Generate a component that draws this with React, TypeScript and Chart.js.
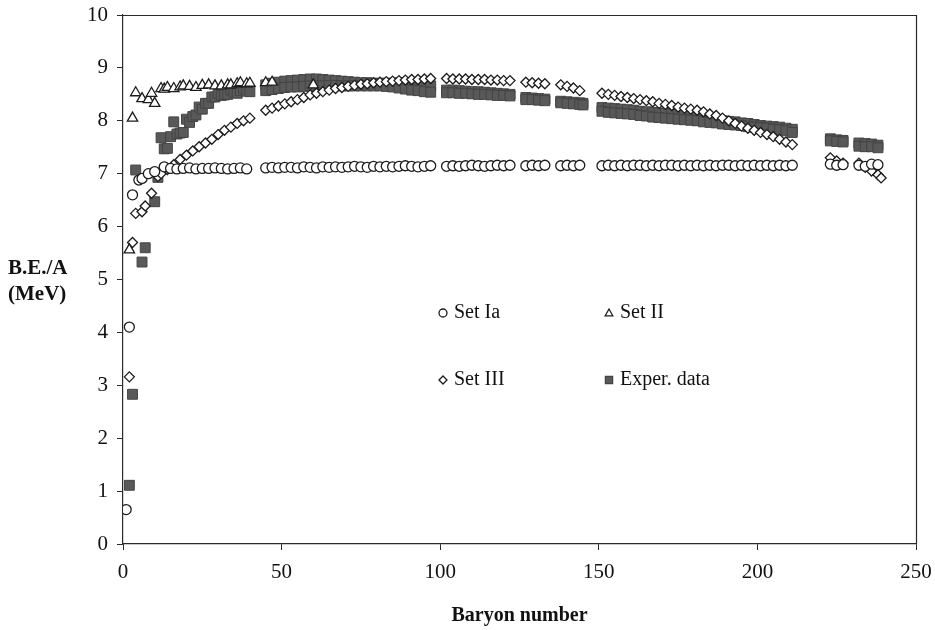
import React, { useEffect, useRef } from "react";
import { Chart, registerables } from "chart.js";

Chart.register(...registerables);

// ---------- data ----------
const seriesNames = ["Set Ia", "Set II", "Set III", "Exper. data"];
const xTitle = "Baryon number";
const yTitleLines = ["B.E./A", "(MeV)"];

// Set Ia (open circles)
const iaA = [
  1, 2, 3, 5, 6, 8, 10, 13, 15, 17, 19, 21, 23, 25, 27, 29, 31, 33, 35, 37, 39,
  45, 47, 49, 51, 53, 55, 57, 59, 61, 63, 65, 67, 69, 71, 73, 75, 77, 79, 81, 83, 85, 87, 89, 91, 93, 95, 97,
  102, 104, 106, 108, 110, 112, 114, 116, 118, 120, 122,
  127, 129, 131, 133,
  138, 140, 142, 144,
  151, 153, 155, 157, 159, 161, 163, 165, 167, 169, 171, 173, 175, 177, 179, 181, 183, 185, 187, 189, 191, 193, 195, 197, 199, 201, 203, 205, 207, 209, 211,
  223, 225, 227,
  232, 234, 236, 238,
];
const iaBE = [
  0.65, 4.1, 6.6, 6.88, 6.91, 7.0, 7.04, 7.13, 7.1, 7.09, 7.1, 7.11, 7.09, 7.1, 7.1, 7.11, 7.1, 7.09, 7.1, 7.11, 7.09,
  7.11, 7.12, 7.11, 7.12, 7.12, 7.11, 7.13, 7.12, 7.11, 7.13, 7.12, 7.13, 7.12, 7.13, 7.14, 7.13, 7.12, 7.14, 7.13, 7.14, 7.13, 7.14, 7.15, 7.14, 7.13, 7.14, 7.15,
  7.14, 7.15, 7.14, 7.15, 7.16, 7.15, 7.14, 7.15, 7.16, 7.15, 7.16,
  7.15, 7.16, 7.15, 7.16,
  7.15, 7.16, 7.15, 7.16,
  7.15, 7.16, 7.15, 7.16, 7.15, 7.16, 7.16, 7.15, 7.16, 7.15, 7.16, 7.16, 7.15, 7.16, 7.15, 7.16, 7.15, 7.16, 7.15, 7.16, 7.16, 7.15, 7.16, 7.15, 7.16, 7.15, 7.16, 7.15, 7.16, 7.15, 7.16,
  7.18, 7.16, 7.17,
  7.16, 7.14, 7.18, 7.17,
];

// Set II (open triangles)
const iiA = [2, 3, 4, 6, 8, 9, 10, 12, 13, 14, 16, 18, 19, 21, 23, 25, 27, 29, 31, 33, 34, 36, 37, 39, 40, 45, 47, 60];
const iiBE = [
  5.56, 8.05, 8.53, 8.42, 8.4, 8.52, 8.33, 8.61, 8.6, 8.63, 8.61, 8.64, 8.66, 8.65, 8.63, 8.67, 8.68, 8.66, 8.66, 8.68,
  8.68, 8.7, 8.72, 8.7, 8.71, 8.72, 8.73, 8.68,
];

// Set III (open diamonds)
const iiiA = [
  2, 3, 4, 6, 7, 9, 11, 12, 14, 16, 18, 20, 22, 24, 26, 28, 30, 32, 34, 36, 38, 40,
  45, 47, 49, 51, 53, 55, 57, 59, 61, 63, 65, 67, 69, 71, 73, 75, 77, 79, 81, 83, 85, 87, 89, 91, 93, 95, 97,
  102, 104, 106, 108, 110, 112, 114, 116, 118, 120, 122,
  127, 129, 131, 133,
  138, 140, 142, 144,
  151, 153, 155, 157, 159, 161, 163, 165, 167, 169, 171, 173, 175, 177, 179, 181, 183, 185, 187, 189, 191, 193, 195, 197, 199, 201, 203, 205, 207, 209, 211,
  223, 225, 227,
  232, 234, 236, 238, 239,
];
const iiiBE = [
  3.16, 5.7, 6.25, 6.28, 6.39, 6.63, 6.95, 7.0, 7.08, 7.17, 7.27, 7.35, 7.43, 7.51, 7.58, 7.65, 7.74, 7.82, 7.88, 7.95, 8.0, 8.05,
  8.2, 8.24, 8.28, 8.32, 8.36, 8.4, 8.44, 8.49, 8.52, 8.55, 8.58, 8.61, 8.63, 8.65, 8.67, 8.69, 8.7, 8.72, 8.73, 8.74, 8.75, 8.76, 8.77, 8.78, 8.78, 8.79, 8.8,
  8.8, 8.79, 8.79, 8.79, 8.78, 8.78, 8.78, 8.77, 8.77, 8.76, 8.76,
  8.73, 8.72, 8.71, 8.7,
  8.68, 8.65, 8.62, 8.57,
  8.52, 8.5, 8.48, 8.46, 8.44, 8.42, 8.4, 8.38, 8.36, 8.33, 8.31, 8.29, 8.26, 8.24, 8.22, 8.2, 8.17, 8.13, 8.1, 8.05, 8.0, 7.95, 7.9, 7.86, 7.82, 7.78, 7.74, 7.7, 7.65, 7.6, 7.55,
  7.3, 7.24, 7.2,
  7.2, 7.12, 7.05, 6.98, 6.92,
];

// Experimental data (filled squares): upper row / single values
const expA = [
  2, 3, 4, 6, 7, 10, 11, 12, 13, 14, 15, 16, 17, 18, 19, 20, 21, 22, 23, 24, 25, 26, 27, 28, 29, 30, 31, 32, 33, 34, 35, 36, 37, 38, 39, 40,
  45, 47, 49, 51, 53, 55, 57, 59, 61, 63, 65, 67, 69, 71, 73, 75, 77, 79, 81, 83, 85, 87, 89, 91, 93, 95, 97,
  102, 104, 106, 108, 110, 112, 114, 116, 118, 120, 122,
  127, 129, 131, 133,
  138, 140, 142, 144, 145,
  151, 153, 155, 157, 159, 161, 163, 165, 167, 169, 171, 173, 175, 177, 179, 181, 183, 185, 187, 189, 191, 193, 195, 197, 199, 201, 203, 205, 207, 209, 211,
  223, 225, 227,
  232, 234, 236, 238,
];
const expBE = [
  1.11, 2.83, 7.07, 5.33, 5.6, 6.47, 6.93, 7.68, 7.47, 7.48, 7.7, 7.98, 7.75, 7.77, 7.78, 8.03, 7.97, 8.08, 8.11, 8.26, 8.22, 8.33, 8.33, 8.45, 8.45, 8.52, 8.48, 8.49, 8.5, 8.58, 8.54, 8.52, 8.57, 8.61, 8.56, 8.55,
  8.68, 8.71, 8.73, 8.75, 8.76, 8.77, 8.78, 8.79, 8.79, 8.78, 8.77, 8.76, 8.75, 8.74, 8.73, 8.72, 8.72, 8.71, 8.71, 8.71, 8.71, 8.72, 8.72, 8.7, 8.69, 8.67, 8.66,
  8.58, 8.58, 8.57, 8.56, 8.55, 8.55, 8.54, 8.53, 8.52, 8.51, 8.5,
  8.44, 8.43, 8.42, 8.41,
  8.37, 8.36, 8.35, 8.34, 8.33,
  8.25, 8.24, 8.23, 8.22, 8.21, 8.2, 8.18, 8.17, 8.16, 8.15, 8.14, 8.13, 8.12, 8.11, 8.1, 8.08, 8.06, 8.04, 8.02, 8.0, 7.99, 7.98, 7.96, 7.95, 7.93, 7.91, 7.9, 7.89, 7.88, 7.86, 7.84,
  7.66, 7.64, 7.63,
  7.58, 7.57, 7.56, 7.54,
];
// Experimental data: lower row of the band (other isotopes at the same A)
const expLowA = [
  45, 47, 49, 51, 53, 55, 57, 59, 61, 63, 65, 67, 69, 71, 73, 75, 77, 79, 81, 83, 85, 87, 89, 91, 93, 95, 97,
  102, 104, 106, 108, 110, 112, 114, 116, 118, 120, 122,
  127, 129, 131, 133,
  138, 140, 142, 144, 145,
  151, 153, 155, 157, 159, 161, 163, 165, 167, 169, 171, 173, 175, 177, 179, 181, 183, 185, 187, 189, 191, 193, 195, 197, 199, 201, 203, 205, 207, 209, 211,
  223, 225, 227,
  232, 234, 236, 238,
];
const expLowBE = [
  8.57, 8.59, 8.61, 8.63, 8.64, 8.64, 8.65, 8.66, 8.66, 8.66, 8.67, 8.67, 8.66, 8.66, 8.66, 8.66, 8.66, 8.66, 8.66, 8.65, 8.64, 8.62, 8.6, 8.58, 8.57, 8.55, 8.54,
  8.53, 8.53, 8.52, 8.52, 8.51, 8.5, 8.5, 8.49, 8.48, 8.48, 8.47,
  8.4, 8.4, 8.39, 8.38,
  8.34, 8.33, 8.32, 8.31, 8.3,
  8.18, 8.16, 8.15, 8.14, 8.13, 8.12, 8.1, 8.09, 8.07, 8.06, 8.05, 8.04, 8.03, 8.02, 8.01, 8.0, 7.98, 7.97, 7.96, 7.94, 7.93, 7.92, 7.91, 7.89, 7.88, 7.87, 7.86, 7.84, 7.83, 7.81, 7.78,
  7.62, 7.61, 7.6,
  7.52, 7.51, 7.51, 7.49,
];

const xMin = 0, xMax = 250, xStep = 50;
const yMin = 0, yMax = 10, yStep = 1;

// ---------- helpers ----------
const pts = (xs: number[], ys: number[]) => xs.map((x, i) => ({ x, y: ys[i] }));
const INK = "#1c1c1c";
const SERIF = "'Liberation Serif', 'Times New Roman', serif";

function drawMarker(ctx: CanvasRenderingContext2D, kind: string, x: number, y: number, r: number) {
  ctx.beginPath();
  if (kind === "circle") {
    ctx.arc(x, y, r, 0, Math.PI * 2);
  } else if (kind === "triangle") {
    ctx.moveTo(x, y - r);
    ctx.lineTo(x + r * 0.95, y + r * 0.7);
    ctx.lineTo(x - r * 0.95, y + r * 0.7);
    ctx.closePath();
  } else if (kind === "rectRot") {
    ctx.moveTo(x, y - r);
    ctx.lineTo(x + r, y);
    ctx.lineTo(x, y + r);
    ctx.lineTo(x - r, y);
    ctx.closePath();
  } else {
    ctx.rect(x - r, y - r, 2 * r, 2 * r);
  }
  ctx.fill();
  ctx.stroke();
}

const overlayPlugin = {
  id: "overlay",
  afterDraw(chart: any) {
    const ctx: CanvasRenderingContext2D = chart.ctx;
    const a = chart.chartArea;
    ctx.save();
    // frame: top and right edges
    ctx.strokeStyle = "#2a2a2a";
    ctx.lineWidth = 1.2;
    ctx.beginPath();
    ctx.moveTo(a.left, a.top + 0.5);
    ctx.lineTo(a.right + 0.5, a.top + 0.5);
    ctx.lineTo(a.right + 0.5, a.bottom);
    ctx.stroke();

    // y-axis title (horizontal, two lines)
    ctx.fillStyle = "#111";
    ctx.font = "bold 21px " + SERIF;
    ctx.textAlign = "left";
    ctx.textBaseline = "middle";
    yTitleLines.forEach((t, i) => ctx.fillText(t, 8, 269 + i * 26));

    // legend inside plot area (2 x 2)
    const kinds = ["circle", "triangle", "rectRot", "rect"];
    const cols = [a.left + 320, a.left + 486];
    const rows = [a.top + 298, a.top + 365];
    ctx.font = "20px " + SERIF;
    seriesNames.forEach((name, i) => {
      const cx = cols[i % 2];
      const cy = rows[Math.floor(i / 2)];
      const ds = chart.data.datasets[i];
      ctx.fillStyle = ds.backgroundColor;
      ctx.strokeStyle = ds.borderColor;
      ctx.lineWidth = 1.3;
      const r = kinds[i] === "rect" ? 3.6 : 4;
      drawMarker(ctx, kinds[i], cx, cy, r);
      ctx.fillStyle = "#111";
      ctx.fillText(name, cx + 11, cy);
    });
    ctx.restore();
  },
};

export default function App() {
  const ref = useRef<HTMLCanvasElement | null>(null);

  useEffect(() => {
    if (!ref.current) return;
    const chart = new Chart(ref.current, {
      type: "scatter",
      data: {
        datasets: [
          {
            label: seriesNames[0],
            data: pts(iaA, iaBE),
            pointStyle: "circle",
            pointRadius: 5,
            pointBorderWidth: 1.3,
            borderColor: INK,
            backgroundColor: "#ffffff",
          },
          {
            label: seriesNames[1],
            data: pts(iiA, iiBE),
            pointStyle: "triangle",
            pointRadius: 6,
            pointBorderWidth: 1.3,
            borderColor: INK,
            backgroundColor: "#ffffff",
          },
          {
            label: seriesNames[2],
            data: pts(iiiA, iiiBE),
            pointStyle: "rectRot",
            pointRadius: 5,
            pointBorderWidth: 1.3,
            borderColor: INK,
            backgroundColor: "#ffffff",
          },
          {
            label: seriesNames[3],
            data: [...pts(expA, expBE), ...pts(expLowA, expLowBE)],
            pointStyle: "rect",
            pointRadius: 7,
            pointBorderWidth: 1,
            borderColor: "#444444",
            backgroundColor: "#595959",
          },
        ],
      },
      options: {
        responsive: false,
        animation: false,
        events: [],
        layout: { padding: { top: 15, right: 19, left: 0, bottom: 0 } },
        plugins: {
          legend: { display: false },
          tooltip: { enabled: false },
          title: { display: false },
        },
        scales: {
          x: {
            type: "linear",
            min: xMin,
            max: xMax,
            afterFit: (s: any) => {
              s.height = 86;
              s.paddingLeft = 0;
              s.paddingRight = 0;
            },
            ticks: {
              stepSize: xStep,
              color: "#111",
              font: { family: SERIF, size: 21 },
              padding: 10,
              maxRotation: 0,
            },
            grid: { drawOnChartArea: false, drawTicks: true, tickLength: 6, color: "#2a2a2a" },
            border: { display: true, color: "#2a2a2a", width: 1.2 },
            title: {
              display: true,
              text: xTitle,
              color: "#111",
              font: { family: SERIF, size: 20, weight: "bold" },
              padding: { top: 0, bottom: 2 },
            },
          },
          y: {
            type: "linear",
            min: yMin,
            max: yMax,
            afterFit: (s: any) => {
              s.width = 123;
              s.paddingTop = 0;
              s.paddingBottom = 0;
            },
            ticks: {
              stepSize: yStep,
              color: "#111",
              font: { family: SERIF, size: 21 },
              padding: 9,
            },
            grid: { drawOnChartArea: false, drawTicks: true, tickLength: 6, color: "#2a2a2a" },
            border: { display: true, color: "#2a2a2a", width: 1.2 },
          },
        },
      },
      plugins: [overlayPlugin],
    } as any);
    return () => chart.destroy();
  }, []);

  return (
    <div style={{ position: "absolute", left: 0, top: 0, width: 935, height: 630, background: "#fff" }}>
      <canvas ref={ref} width={935} height={630} style={{ display: "block" }} />
    </div>
  );
}
